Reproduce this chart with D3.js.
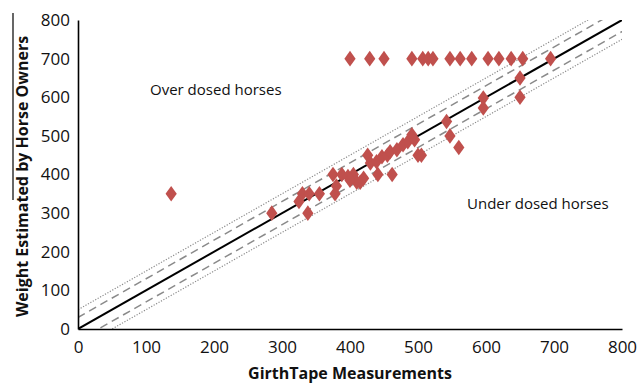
<!DOCTYPE html>
<html><head><meta charset="utf-8">
<script src="https://cdn.jsdelivr.net/npm/d3@7"></script>
<style>body{margin:0;background:#fff}svg{display:block}</style>
</head><body>
<svg id="c" width="640" height="384"></svg>
<script>
// Data: girth tape measurement (x) vs owner estimated weight (y)
const girthTape = [400,429,450,491,507,515,522,547,562,579,603,619,637,654,695,
  137,285,325,330,338,340,355,
  375,380,378,388,397,405,410,415,420,400,
  426,430,439,441,447,455,459,462,469,478,485,491,495,500,505,
  542,547,560,596,596,650,650];
const ownerEstimate = [700,700,700,700,700,700,700,700,700,700,700,700,700,700,700,
  350,300,330,350,300,350,350,
  400,370,350,400,395,400,380,380,390,385,
  450,430,433,400,446,450,459,400,464,477,485,503,490,450,450,
  537,500,470,598,572,650,600];
const xTicks = [0,100,200,300,400,500,600,700,800];
const yTicks = [0,100,200,300,400,500,600,700,800];
const bandOffsets = [30, 50]; // dashed ±30, dotted ±50
const xTitle = "GirthTape Measurements";
const yTitle = "Weight Estimated by Horse Owners";
const notes = [{text:"Over dosed horses", x:150, y:95}, {text:"Under dosed horses", x:467, y:209}];

const svg = d3.select("#c");
const L = 78, R = 622, T = 20, B = 329;
const x = d3.scaleLinear().domain([0,800]).range([L,R]);
const y = d3.scaleLinear().domain([0,800]).range([B,T]);

svg.append("defs").append("clipPath").attr("id","pc")
  .append("rect").attr("x",L).attr("y",T).attr("width",R-L).attr("height",B-T);

const lineG = svg.append("g").attr("clip-path","url(#pc)");
function diag(off){ return [[-100, -100+off],[900, 900+off]]; }
const ln = d3.line().x(d=>x(d[0])).y(d=>y(d[1]));
[bandOffsets[1], -bandOffsets[1]].forEach(o=>{
  lineG.append("path").attr("d", ln(diag(o))).attr("fill","none")
    .attr("stroke","#8c8c8c").attr("stroke-width",1.2).attr("stroke-dasharray","1.2,1.6");
});
[bandOffsets[0], -bandOffsets[0]].forEach(o=>{
  lineG.append("path").attr("d", ln(diag(o))).attr("fill","none")
    .attr("stroke","#8a8a8a").attr("stroke-width",1.5).attr("stroke-dasharray","8,5");
});
lineG.append("path").attr("d", ln(diag(0))).attr("fill","none")
  .attr("stroke","#000").attr("stroke-width",2);

const pts = girthTape.map((g,i)=>[g, ownerEstimate[i]]);
const sym = d3.symbol().type(d3.symbolDiamond).size(70);
svg.append("g").selectAll("path").data(pts).join("path")
  .attr("d", sym)
  .attr("transform", d=>`translate(${x(d[0])},${y(d[1])}) scale(1.25,1)`)
  .attr("fill","#c0504d");

const font = "'Open Sans', 'Liberation Sans', sans-serif";
const xAxis = svg.append("g").attr("transform",`translate(0,${B})`)
  .call(d3.axisBottom(x).tickValues(xTicks).tickSize(0).tickPadding(8).tickFormat(d3.format("d")));
const yAxis = svg.append("g").attr("transform",`translate(${L},0)`)
  .call(d3.axisLeft(y).tickValues(yTicks).tickSize(0).tickPadding(8).tickFormat(d3.format("d")));
[xAxis,yAxis].forEach(a=>{
  a.select(".domain").attr("stroke","#000").attr("stroke-width",1.6);
  a.selectAll("text").attr("font-family",font).attr("font-size",17).attr("fill","#111");
});
xAxis.selectAll("text").attr("dy","0.95em");

svg.append("text").attr("x",(L+R)/2).attr("y",379).attr("text-anchor","middle")
  .attr("font-family",font).attr("font-weight","bold").attr("font-size",16).attr("fill","#111").text(xTitle);
svg.append("text").attr("transform",`translate(28,${(T+B)/2+2}) rotate(-90)`).attr("text-anchor","middle")
  .attr("font-family",font).attr("font-weight","bold").attr("font-size",16).attr("fill","#111").text(yTitle);
svg.append("line").attr("x1",13).attr("x2",13).attr("y1",13).attr("y2",200).attr("stroke","#000").attr("stroke-width",1.2);

svg.append("g").selectAll("text").data(notes).join("text")
  .attr("x",d=>d.x).attr("y",d=>d.y)
  .attr("font-family",font).attr("font-size",15).attr("fill","#111").text(d=>d.text);
</script>
</body></html>
